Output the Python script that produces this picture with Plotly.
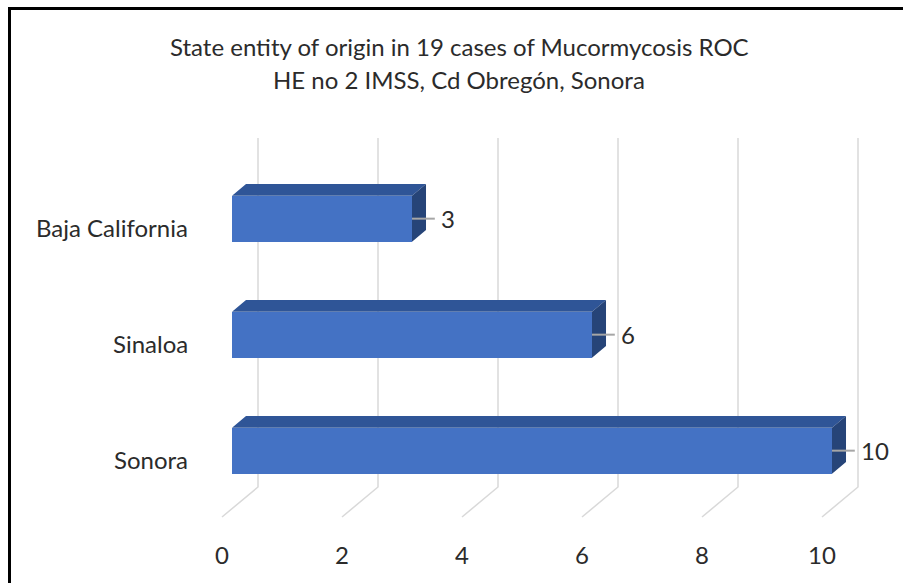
import plotly.graph_objects as go

# ---- data ----
categories = ["Sonora", "Sinaloa", "Baja California"]
cases = [10, 6, 3]
tick_values = [0, 2, 4, 6, 8, 10]
tick_labels = ["0", "2", "4", "6", "8", "10"]
title_lines = ["State entity of origin in 19 cases of Mucormycosis ROC",
               "HE no 2 IMSS, Cd Obregón, Sonora"]

# ---- pseudo-3D geometry (in axis units) ----
DX, DY = 0.6, 0.2586          # depth offset of the back wall
F0, F1 = 0.278, 0.667         # bar front / back depth fractions
H = 0.198                     # bar half height
FLOOR, TOP = -0.5, 2.767      # floor front edge / top of back wall

FONT = "Lato"
TXT = "#2b2b2b"
FRONT, TOPC, SIDE = "#4472C4", "#2F5597", "#264478"

fig = go.Figure()

ks = list(range(len(categories)))

# gridlines: back wall + floor diagonals (drawn below the traces)
grid_shapes = []
for t in tick_values:
    grid_shapes.append(dict(type="path", xref="x", yref="y", layer="below",
                            path=f"M{t + DX},{TOP} L{t + DX},{FLOOR + DY} L{t},{FLOOR}",
                            line=dict(color="#d9d9d9", width=1.5)))

# front faces as real bars
fig.add_trace(go.Bar(
    x=cases, y=[k + F0 * DY for k in ks], base=[F0 * DX] * len(cases),
    orientation="h", width=2 * H, marker=dict(color=FRONT, line=dict(width=0)),
    hoverinfo="skip", showlegend=False))

# top faces
tx, ty = [], []
for k, v in zip(ks, cases):
    y0 = k + H
    tx += [F0 * DX, v + F0 * DX, v + F1 * DX, F1 * DX, F0 * DX, None]
    ty += [y0 + F0 * DY, y0 + F0 * DY, y0 + F1 * DY, y0 + F1 * DY, y0 + F0 * DY, None]
fig.add_trace(go.Scatter(x=tx, y=ty, mode="lines", fill="toself", fillcolor=TOPC,
                         line=dict(width=0, color=TOPC), hoverinfo="skip", showlegend=False))

# side faces
sx, sy = [], []
for k, v in zip(ks, cases):
    sx += [v + F0 * DX, v + F0 * DX, v + F1 * DX, v + F1 * DX, v + F0 * DX, None]
    sy += [k - H + F0 * DY, k + H + F0 * DY, k + H + F1 * DY, k - H + F1 * DY, k - H + F0 * DY, None]
fig.add_trace(go.Scatter(x=sx, y=sy, mode="lines", fill="toself", fillcolor=SIDE,
                         line=dict(width=0, color=SIDE), hoverinfo="skip", showlegend=False))

# leader lines
lx, ly = [], []
for k, v in zip(ks, cases):
    lx += [v + F0 * DX, v + F0 * DX + 0.38, None]
    ly += [k + F0 * DY, k + F0 * DY, None]
fig.add_trace(go.Scatter(x=lx, y=ly, mode="lines", line=dict(color="#a6a6a6", width=2),
                         hoverinfo="skip", showlegend=False))

ann = []
# data labels
for k, v in zip(ks, cases):
    ann.append(dict(x=v + F0 * DX + 0.45, y=k + F0 * DY, text=str(v), showarrow=False,
                    xanchor="left", yanchor="middle", font=dict(family=FONT, size=24, color=TXT)))
# category labels
for k, c in zip(ks, categories):
    ann.append(dict(x=-0.53, y=k, text=c, showarrow=False, xanchor="right", yanchor="middle",
                    font=dict(family=FONT, size=24, color=TXT)))
# value axis labels
for t, lab in zip(tick_values, tick_labels):
    ann.append(dict(x=t, y=-0.819, text=lab, showarrow=False, xanchor="center", yanchor="middle",
                    font=dict(family=FONT, size=24, color=TXT)))
# title
for i, line in enumerate(title_lines):
    ann.append(dict(x=459 / 903, y=1 - (47 + 33 * i) / 583, xref="paper", yref="paper",
                    text=line, showarrow=False, xanchor="center", yanchor="middle",
                    font=dict(family=FONT, size=24, color=TXT)))

# outer frame (top and left edges; right/bottom lie outside the window)
frame = [
    dict(type="line", xref="paper", yref="paper", layer="above",
         x0=8 / 903, x1=1.0, y0=1 - 8.5 / 583, y1=1 - 8.5 / 583,
         line=dict(color="black", width=3)),
    dict(type="line", xref="paper", yref="paper", layer="above",
         x0=9.5 / 903, x1=9.5 / 903, y0=0.0, y1=1 - 7 / 583,
         line=dict(color="black", width=3)),
]

fig.update_layout(
    width=903, height=583,
    margin=dict(l=0, r=0, t=0, b=0),
    paper_bgcolor="white", plot_bgcolor="white",
    xaxis=dict(range=[-222 / 60, (903 - 222) / 60], visible=False, fixedrange=True),
    yaxis=dict(range=[-124 / 116, 459 / 116], visible=False, fixedrange=True),
    annotations=ann,
    shapes=grid_shapes + frame,
    bargap=0,
)

fig.write_html("out.html", config={"displayModeBar": False},
               post_script="document.body.style.margin='0';document.body.style.overflow='hidden';")
